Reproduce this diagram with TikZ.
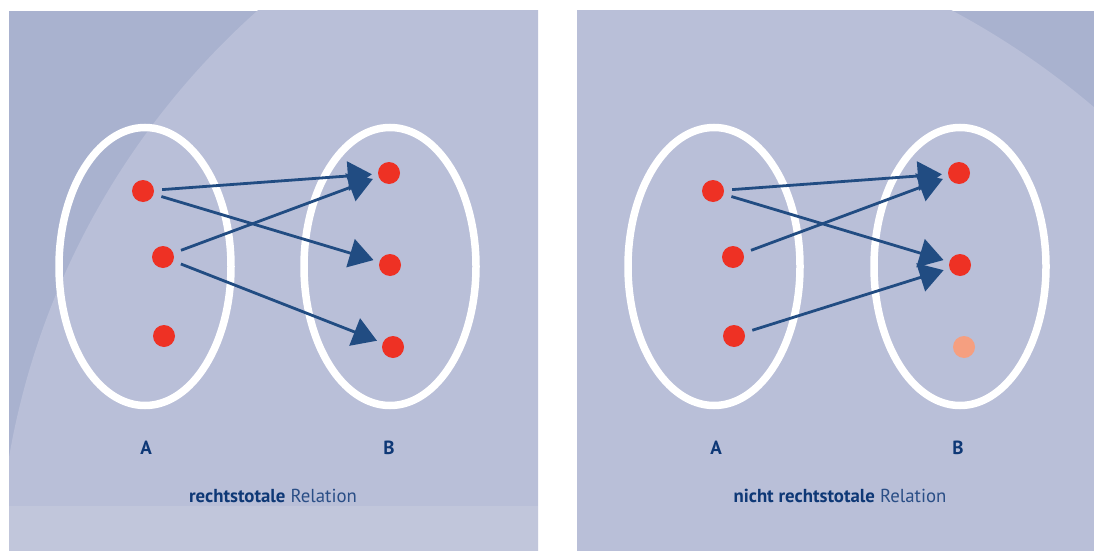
\documentclass[tikz,border=0pt]{standalone}
\usepackage{fontspec}
\setsansfont{PT Sans}
\usetikzlibrary{arrows.meta, positioning}
\definecolor{panellight}{HTML}{B9BFD8}
\definecolor{paneldark}{HTML}{A9B2CF}
\definecolor{stripcol}{HTML}{C1C6DB}
\definecolor{dotred}{HTML}{EE3124}
\definecolor{dotpale}{HTML}{F59F80}
\definecolor{arrowblue}{HTML}{214C82}
\definecolor{textblue}{HTML}{0E3876}
\definecolor{relblue}{HTML}{2A4E86}

\begin{document}
\begin{tikzpicture}[x=1pt, y=-1pt, font=\sffamily,
    dot/.style={circle, fill=dotred, inner sep=0pt, minimum size=22pt},
    rel/.style={draw=arrowblue, line width=2.8pt, -{Triangle[length=24pt,width=29pt]}, shorten <=8pt, shorten >=6pt},
    setring/.style={draw=white, line width=7.5pt},
    setname/.style={text=textblue, font=\sffamily\bfseries\fontsize{19}{21}\selectfont},
    captext/.style={text=relblue, font=\sffamily\fontsize{18.8}{21}\selectfont}]
        \useasboundingbox (0,0) rectangle (1094,551);
        \fill[white] (0,0) rectangle (1094,551);

        % Left panel: background
        \begin{scope}
            \clip (9,11) rectangle (538,551);
            \fill[paneldark] (9,11) rectangle (538,551);
            \fill[panellight] (773.7,590) circle (776);
            \fill[stripcol] (9,506) rectangle (538,551);
        \end{scope}

        % Sets
        \draw[setring] (145,266.5) ellipse (86 and 139);
        \draw[setring] (390,266.5) ellipse (86 and 139);

        % Elements
        \node[dot] (la1) at (143,191) {};
        \node[dot] (la2) at (163,257) {};
        \node[dot] (la3) at (164,336) {};
        \node[dot] (lb1) at (389,173) {};
        \node[dot] (lb2) at (390,265) {};
        \node[dot] (lb3) at (393,347) {};

        % Relation
        \draw[rel] (la1) -- (lb1);
        \draw[rel] (la1) -- (lb2);
        \draw[rel] (la2) -- (lb1);
        \draw[rel] (la2) -- (lb3);

        % Labels
        \node[setname] (lA) at (146,448) {A};
        \node[setname] (lB) at (389,448) {B};
        \node[captext] (lcap) at (273,496) {{\color{textblue}\bfseries rechtstotale} Relation};

        % Right panel
        \begin{scope}[shift={(570,0)}]
            \begin{scope}
                \clip (7,11) rectangle (524,551);
                \fill[paneldark] (7,11) rectangle (524,551);
                \fill[panellight] (6.3,715.8) circle (799);
            \end{scope}

            % Sets
            \draw[setring] (144,266.5) ellipse (86 and 139);
            \draw[setring] (390,266.5) ellipse (86 and 139);

            % Elements
            \node[dot] (ra1) at (143,191) {};
            \node[dot] (ra2) at (163,257) {};
            \node[dot] (ra3) at (164,336) {};
            \node[dot] (rb1) at (389,173) {};
            \node[dot] (rb2) at (390,265) {};
            \node[dot, fill=dotpale] (rb3) at (394,347) {};

            % Relation
            \draw[rel] (ra1) -- (rb1);
            \draw[rel] (ra1) -- (rb2);
            \draw[rel] (ra2) -- (rb1);
            \draw[rel] (ra3) -- (rb2);

            % Labels
            \node[setname] (rA) at (146,448) {A};
            \node[setname] (rB) at (388,448) {B};
            \node[captext] (rcap) at (270,496) {{\color{textblue}\bfseries nicht rechtstotale} Relation};
        \end{scope}
\end{tikzpicture}
\end{document}
